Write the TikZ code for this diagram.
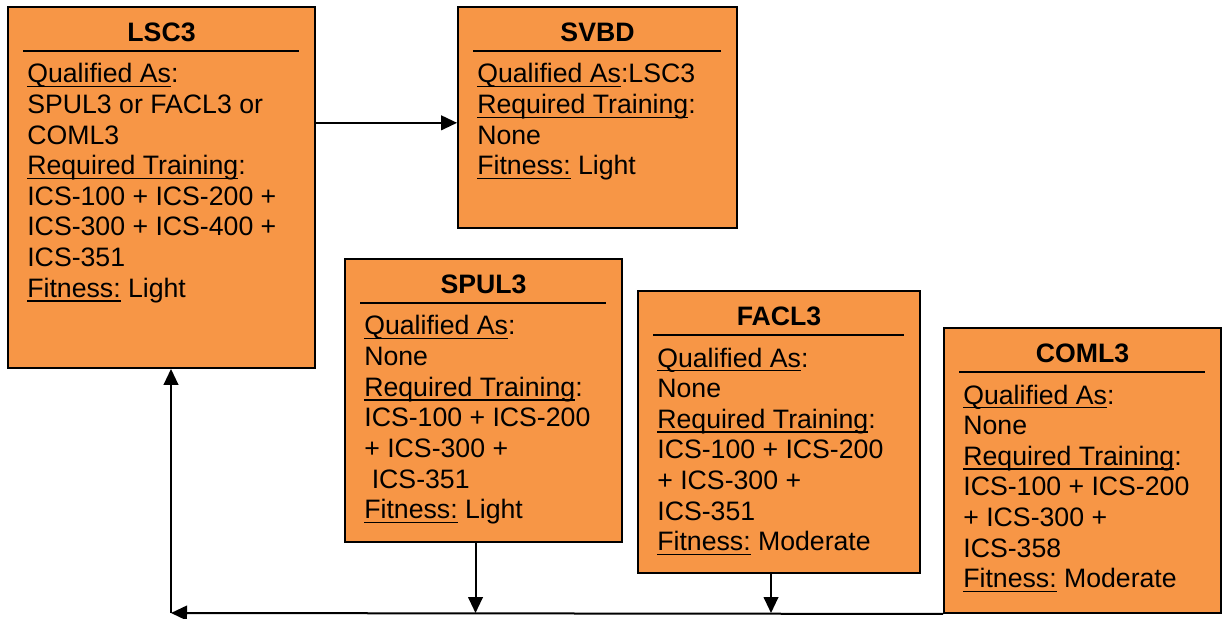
\documentclass[tikz,border=0pt]{standalone}
\usepackage{fontspec}
\setmainfont{Liberation Sans}
\usetikzlibrary{arrows.meta,fit}
\definecolor{cardfill}{HTML}{F79646}
\newcommand\ulbar[1]{\setbox0\hbox{#1}\rlap{\rule[-3.3pt]{\wd0}{1.1pt}}\box0{}}

\begin{document}
\begin{tikzpicture}[x=0.75pt, y=-0.75pt,
    card/.style={draw, line width=1.4pt, fill=cardfill, inner sep=0pt},
    head/.style={font=\fontsize{20}{23}\selectfont\bfseries, inner sep=0pt},
    body/.style={font=\fontsize{20}{22.95}\selectfont, align=left, inner sep=0pt, anchor=north west},
    bar/.style={line width=1.4pt},
    link/.style={line width=1.5pt, -{Triangle[length=12pt,width=11pt]}}]
    \useasboundingbox (0,0) rectangle (1223,618);

    % the five cards
    \node[card, fit={(8,7) (315,368)}] (lsc) {};
    \node[card, fit={(458,7) (737,228)}] (svbd) {};
    \node[card, fit={(345,259) (622,542)}] (spul) {};
    \node[card, fit={(638,291) (920,573)}] (facl) {};
    \node[card, fit={(944,328) (1221,613)}] (coml) {};

    \foreach \n/\t in {lsc/LSC3, svbd/SVBD, spul/SPUL3, facl/FACL3, coml/COML3} {
        \node[head] (\n head) at ([yshift=-19.6pt]\n.north) {\t};
        \draw[bar] ([xshift=12pt, yshift=-33.5pt]\n.north west) -- ([xshift=-12.5pt, yshift=-33.5pt]\n.north east);
    }

    \node[body] (lsctext) at ([xshift=15pt, yshift=-43pt]lsc.north west)
        {\ulbar{Qualified As}:\\ SPUL3 or FACL3 or\\ COML3\\ \ulbar{Required Training}:\\
         ICS-100 + ICS-200 +\\ ICS-300 + ICS-400 +\\ ICS-351\\ \ulbar{Fitness:} Light};
    \node[body] (svbdtext) at ([xshift=15pt, yshift=-43pt]svbd.north west)
        {\ulbar{Qualified As}:LSC3\\ \ulbar{Required Training}:\\ None\\ \ulbar{Fitness:} Light};
    \node[body] (spultext) at ([xshift=15pt, yshift=-43pt]spul.north west)
        {\ulbar{Qualified As}:\\ None\\ \ulbar{Required Training}:\\ ICS-100 + ICS-200\\
         + ICS-300 +\\ \hspace*{0.28em}ICS-351\\ \ulbar{Fitness:} Light};
    \node[body] (facltext) at ([xshift=15pt, yshift=-43pt]facl.north west)
        {\ulbar{Qualified As}:\\ None\\ \ulbar{Required Training}:\\ ICS-100 + ICS-200\\
         + ICS-300 +\\ ICS-351\\ \ulbar{Fitness:} Moderate};
    \node[body] (comltext) at ([xshift=15pt, yshift=-43pt]coml.north west)
        {\ulbar{Qualified As}:\\ None\\ \ulbar{Required Training}:\\ ICS-100 + ICS-200\\
         + ICS-300 +\\ ICS-358\\ \ulbar{Fitness:} Moderate};

    % connectors
    \coordinate (bus) at (171,613);
    \draw[link] ([yshift=-4pt]lsc.east |- svbd.west) -- ([yshift=-4pt]svbd.west);
    \foreach \n in {spul, facl}
        \draw[link] ([xshift=-6pt]\n.south) -- ([xshift=-6pt]\n.south |- bus);
    \draw[link] (coml.south west) -- (bus);
    \draw[link] (bus) -- (bus |- lsc.south);
\end{tikzpicture}
\end{document}
